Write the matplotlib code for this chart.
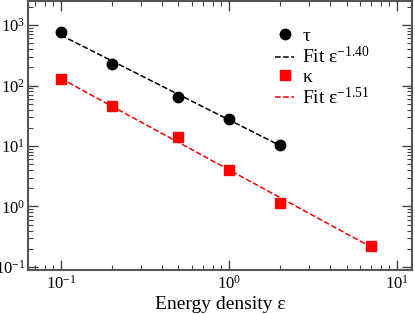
import numpy as np
import matplotlib.pyplot as plt
from matplotlib.ticker import LogLocator, NullFormatter

plt.rcParams["font.family"] = ["Liberation Serif", "DejaVu Serif"]
plt.rcParams["mathtext.fontset"] = "custom"
plt.rcParams["mathtext.rm"] = "Liberation Serif"
plt.rcParams["mathtext.it"] = "Liberation Serif"

tau_x = [0.1, 0.2, 0.5, 1.0, 2.0]
tau_y = [780, 230, 65, 28, 10.5]
kappa_x = [0.1, 0.2, 0.5, 1.0, 2.0, 7.0]
kappa_y = [130, 45, 14, 4.0, 1.15, 0.22]
tau_exp = -1.40
kappa_exp = -1.51


def fit_line(x, y, p):
    # amplitude for a fixed exponent, least squares in log space
    lx, ly = np.log(x), np.log(y)
    a = np.exp(np.mean(ly - p * lx))
    xs = np.array([min(x), max(x)])
    return xs, a * xs ** p


fig = plt.figure(figsize=(4.15, 3.14), dpi=100)
ax = fig.add_axes([0.0675, 0.14, 0.926, 0.857])

ax.plot(tau_x, tau_y, "o", color="black", ms=7.5, label=r"$\tau$", zorder=3)
fx, fy = fit_line(tau_x, tau_y, tau_exp)
ax.plot(fx, fy, "--", color="black", lw=1.1, label=r"Fit ε$^{-1.40}$")
ax.plot(kappa_x, kappa_y, "s", color="red", ms=6.5, label=r"$\kappa$", zorder=3)
fx, fy = fit_line(kappa_x, kappa_y, kappa_exp)
ax.plot(fx, fy, "--", color="red", lw=1.1, label=r"Fit ε$^{-1.51}$")

ax.set_xscale("log")
ax.set_yscale("log")
ax.set_xlim(0.0637, 12.3)
ax.set_ylim(0.089, 2500)

ax.xaxis.set_minor_locator(LogLocator(base=10, subs=np.arange(2, 10)))
ax.yaxis.set_minor_locator(LogLocator(base=10, subs=np.arange(2, 10)))
ax.xaxis.set_minor_formatter(NullFormatter())
ax.yaxis.set_minor_formatter(NullFormatter())
ax.tick_params(which="both", direction="in", top=True, right=True, labelsize=12, color="#444444")
ax.tick_params(which="major", length=7, width=1)
ax.tick_params(which="minor", length=3.5, width=0.8)
ax.tick_params(axis="y", pad=2)
for s in ax.spines.values():
    s.set_linewidth(1.5)
    s.set_color("#555555")

ax.set_xlabel("Energy density ε", fontsize=14, labelpad=2)

ax.legend(loc="upper right", bbox_to_anchor=(0.91, 0.93), frameon=False, fontsize=14,
          handlelength=1.0, handletextpad=0.4, labelspacing=0.05, borderaxespad=0)

fig.savefig("out.png", dpi=100)
